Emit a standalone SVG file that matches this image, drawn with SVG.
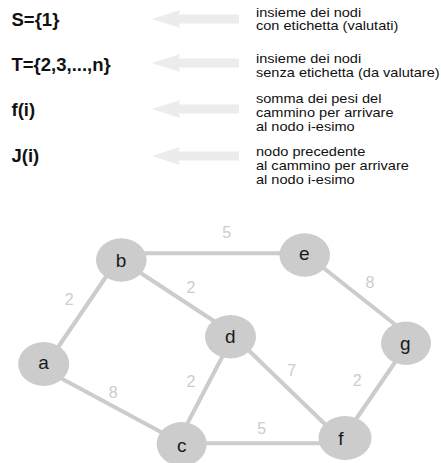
<svg xmlns="http://www.w3.org/2000/svg" width="441" height="463" viewBox="0 0 441 463">
  <style>
    .sym { font-family: "Liberation Sans", Arial, sans-serif; font-weight: bold; font-size: 18.5px; fill: #111; }
    .desc { font-family: "Liberation Sans", Arial, sans-serif; font-size: 13px; fill: #111; }
    .hint { fill: #ececec; }
    .edge { stroke: #cccccc; stroke-width: 4; stroke-linecap: butt; fill: none; }
    .w { font-family: "Liberation Sans", Arial, sans-serif; font-size: 16px; fill: #cccccc; text-anchor: middle; }
    .node ellipse { fill: #cccccc; }
    .node text { font-family: "Liberation Sans", Arial, sans-serif; font-size: 19px; fill: #1a1a1a; text-anchor: middle; }
  </style>
  <defs>
    <!-- pale left-pointing arrow used in the legend -->
    <polygon id="larrow" class="hint" points="0,0 28,-9 27,-4.5 87,-4.5 87,4.5 27,4.5 28,9"/>
  </defs>

  <!-- legend -->
  <g id="legend">
    <g id="legend-S">
      <text class="sym" x="11.5" y="26">S={1}</text>
      <use href="#larrow" x="152" y="19"/>
      <g transform="translate(256,0) scale(1.12,1)">
        <text class="desc" x="0" y="16.6">insieme dei nodi</text>
        <text class="desc" x="0" y="29.6">con etichetta (valutati)</text>
      </g>
    </g>
    <g id="legend-T">
      <text class="sym" x="11.5" y="71">T={2,3,...,n}</text>
      <use href="#larrow" x="152" y="63"/>
      <g transform="translate(256,0) scale(1.12,1)">
        <text class="desc" x="0" y="63.3">insieme dei nodi</text>
        <text class="desc" x="0" y="76.7">senza etichetta (da valutare)</text>
      </g>
    </g>
    <g id="legend-f">
      <text class="sym" x="11.5" y="115.5">f(i)</text>
      <use href="#larrow" x="152" y="109"/>
      <g transform="translate(256,0) scale(1.12,1)">
        <text class="desc" x="0" y="103.5">somma dei pesi del</text>
        <text class="desc" x="0" y="117.5">cammino per arrivare</text>
        <text class="desc" x="0" y="131.5">al nodo i-esimo</text>
      </g>
    </g>
    <g id="legend-J">
      <text class="sym" x="11.5" y="161.5">J(i)</text>
      <use href="#larrow" x="152" y="156"/>
      <g transform="translate(256,0) scale(1.12,1)">
        <text class="desc" x="0" y="156">nodo precedente</text>
        <text class="desc" x="0" y="170">al cammino per arrivare</text>
        <text class="desc" x="0" y="184">al nodo i-esimo</text>
      </g>
    </g>
  </g>

  <!-- weighted edges -->
  <g id="edges">
    <line class="edge" x1="48" y1="362" x2="114" y2="265"/>
    <line class="edge" x1="130" y1="253.3" x2="290" y2="253.3"/>
    <line class="edge" x1="130" y1="266" x2="220" y2="325"/>
    <line class="edge" x1="316" y1="262" x2="402" y2="330"/>
    <line class="edge" x1="55" y1="375" x2="172" y2="438"/>
    <line class="edge" x1="230" y1="342" x2="185" y2="428"/>
    <line class="edge" x1="238" y1="340" x2="332" y2="431"/>
    <line class="edge" x1="190" y1="443.3" x2="335" y2="443.3"/>
    <line class="edge" x1="400" y1="355" x2="350" y2="428"/>
    <text class="w" x="226.7" y="238.3">5</text>
    <text class="w" x="69.3" y="305">2</text>
    <text class="w" x="191" y="292.7">2</text>
    <text class="w" x="370" y="288.3">8</text>
    <text class="w" x="291.7" y="376">7</text>
    <text class="w" x="191" y="387.3">2</text>
    <text class="w" x="113.3" y="398.3">8</text>
    <text class="w" x="357.3" y="386">2</text>
    <text class="w" x="261.7" y="434.3">5</text>
  </g>

  <!-- nodes -->
  <g id="node-a" class="node">
    <ellipse cx="43.7" cy="364" rx="25.5" ry="22"/>
    <text x="43.5" y="369.3">a</text>
  </g>
  <g id="node-b" class="node">
    <ellipse cx="121.3" cy="260" rx="25.3" ry="21.7"/>
    <text x="121" y="266.7">b</text>
  </g>
  <g id="node-e" class="node">
    <ellipse cx="304.7" cy="255" rx="25.3" ry="21.7"/>
    <text x="304.3" y="259.5">e</text>
  </g>
  <g id="node-d" class="node">
    <ellipse cx="230.5" cy="336.7" rx="25.5" ry="21.7"/>
    <text x="230.2" y="342.7">d</text>
  </g>
  <g id="node-g" class="node">
    <ellipse cx="406" cy="343.3" rx="25" ry="21.7"/>
    <text x="405.3" y="350">g</text>
  </g>
  <g id="node-c" class="node">
    <ellipse cx="181.7" cy="444" rx="25" ry="22"/>
    <text x="181.7" y="451.7">c</text>
  </g>
  <g id="node-f" class="node">
    <ellipse cx="345" cy="438" rx="26.5" ry="22"/>
    <text x="341" y="445">f</text>
  </g>
</svg>
